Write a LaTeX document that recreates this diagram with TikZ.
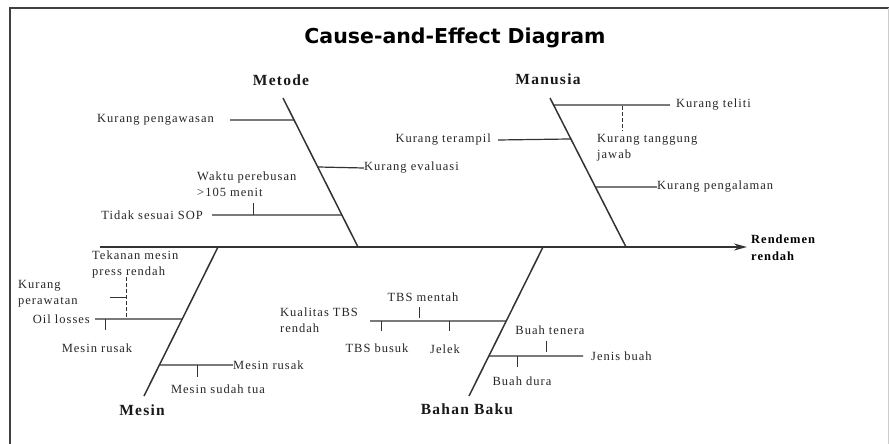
\documentclass[tikz,border=0pt]{standalone}
\usepackage{fontspec}
\setmainfont{Liberation Serif}[LetterSpace=8]
\newfontfamily\titlefont{DejaVu Sans}[FontFace={b}{n}{DejaVu Sans Bold}]
\usetikzlibrary{arrows.meta,calc}
\tikzset{
  bone/.style={draw=black!80, line width=1.5pt},
  sub/.style={draw=black!80, line width=1.2pt},
  tickln/.style={draw=black!80, line width=1pt},
  dashtick/.style={draw=black!80, line width=1pt, dash pattern=on 4pt off 2pt},
  lbl/.style={font=\fontsize{12.5}{16}\selectfont, text=black!85, inner sep=0pt, align=left},
  cat/.style={font=\fontsize{15.5}{17}\selectfont\bfseries, text=black!90, inner sep=0pt},
}
\begin{document}
\begin{tikzpicture}[x=1pt,y=-1pt]
\useasboundingbox (0,0) rectangle (889,444);
% frame
\draw[black!75, line width=2.5pt] (10,444) -- (10,8) -- (889,8);
\draw[black!20, line width=0.8pt] (888,8) -- (888,444);
% title
\node[font=\titlefont\bfseries\fontsize{20.5}{22}\selectfont, inner sep=0pt] (title) at (455,38) {Cause-and-Effect Diagram};
% spine
\coordinate (spL) at (100,247);
\coordinate (spR) at (747,247);
\draw[bone, -{Stealth[length=13pt,width=7pt]}] (spL) -- (spR);
\node[font=\fontsize{12.5}{17}\selectfont\bfseries, inner sep=0pt, anchor=west, align=left] (effect) at (751,248) {Rendemen\\rendah};
% main bones
\coordinate (mT) at (283,98);  \coordinate (mB) at (358,247);
\coordinate (uT) at (550,98);  \coordinate (uB) at (626,247);
\coordinate (sT) at (218,247); \coordinate (sB) at (144,396);
\coordinate (bT) at (543,247); \coordinate (bB) at (469,396);
\draw[bone] (mT) -- (mB);
\draw[bone] (uT) -- (uB);
\draw[bone] (sT) -- (sB);
\draw[bone] (bT) -- (bB);
% category labels
\node[cat] (metode) at (281,80) {Metode};
\node[cat] (manusia) at (548,79) {Manusia};
\node[cat] (mesin) at (142,410) {Mesin};
\node[cat] (bahan) at (467,409) {Bahan Baku};
% ---- Metode
\node[lbl, anchor=east] (kpeng) at (214,120) {Kurang pengawasan};
\node[lbl, anchor=west] (keval) at (364,168) {Kurang evaluasi};
\node[lbl, anchor=west] (waktu) at (197,184) {Waktu perebusan\\>105 menit};
\node[lbl, anchor=east] (sop) at (203,215) {Tidak sesuai SOP};
\coordinate (m1) at ($(mT)!0.148!(mB)$);
\coordinate (m2) at ($(mT)!0.463!(mB)$);
\coordinate (m3) at ($(mT)!0.785!(mB)$);
\coordinate (kpengE) at (230,120);
\coordinate (sopE) at (212,215);
\draw[sub] (kpengE) -- (m1);
\draw[sub] (m2) -- (keval.west);
\draw[sub] (sopE) -- (m3);
\coordinate (wt1) at (253,203); \coordinate (wt2) at (253,215);
\draw[tickln] (wt1) -- (wt2);
% ---- Manusia
\node[lbl, anchor=west] (teliti) at (676,105) {Kurang teliti};
\node[lbl, anchor=west] (tangg) at (597,148) {Kurang tanggung\\jawab};
\node[lbl, anchor=east] (teramp) at (491,140) {Kurang terampil};
\node[lbl, anchor=west] (pengal) at (657,187) {Kurang pengalaman};
\coordinate (u1) at ($(uT)!0.047!(uB)$);
\coordinate (u2) at ($(uT)!0.275!(uB)$);
\coordinate (u3) at ($(uT)!0.597!(uB)$);
\coordinate (telE) at (670,105);
\coordinate (terE) at (498,140);
\draw[sub] (u1) -- (telE);
\draw[sub] (terE) -- (u2);
\draw[sub] (u3) -- (pengal.west);
\coordinate (tg1) at (622,106); \coordinate (tg2) at (622,131);
\draw[dashtick] (tg1) -- (tg2);
% ---- Mesin
\node[lbl, anchor=west] (tekan) at (92,264) {Tekanan mesin\\press rendah};
\node[lbl, anchor=west] (rawat) at (18,294) {Kurang\\perawatan};
\node[lbl, anchor=east] (oil) at (90,319) {Oil losses};
\node[lbl] (mrusakA) at (97,348) {Mesin rusak};
\node[lbl, anchor=west] (mrusakB) at (233,365) {Mesin rusak};
\node[lbl] (tua) at (218,389) {Mesin sudah tua};
\coordinate (s1) at ($(sT)!0.483!(sB)$);
\coordinate (s2) at ($(sT)!0.792!(sB)$);
\coordinate (oilE) at (95,319);
\draw[sub] (oilE) -- (s1);
\draw[sub] (s2) -- (mrusakB.west);
\coordinate (tk1) at (126,277); \coordinate (tk2) at (126,319);
\draw[dashtick] (tk1) -- (tk2);
\coordinate (rw1) at (110,297); \coordinate (rw2) at (126,297);
\draw[tickln] (rw1) -- (rw2);
\coordinate (mr1) at (105,319); \coordinate (mr2) at (105,330);
\draw[tickln] (mr1) -- (mr2);
\coordinate (st1) at (197,365); \coordinate (st2) at (197,377);
\draw[tickln] (st1) -- (st2);
% ---- Bahan Baku
\node[lbl] (mentah) at (423,297) {TBS mentah};
\node[lbl, anchor=west] (kual) at (280,320) {Kualitas TBS\\rendah};
\node[lbl] (busuk) at (377,348) {TBS busuk};
\node[lbl] (jelek) at (445,349) {Jelek};
\node[lbl] (tenera) at (550,330) {Buah tenera};
\node[lbl, anchor=west] (jenis) at (591,356) {Jenis buah};
\node[lbl] (dura) at (522,381) {Buah dura};
\coordinate (b1) at ($(bT)!0.497!(bB)$);
\coordinate (b2) at ($(bT)!0.732!(bB)$);
\coordinate (kualE) at (370,321);
\coordinate (jenE) at (583,356);
\draw[sub] (kualE) -- (b1);
\draw[sub] (b2) -- (jenE);
\coordinate (tb1) at (381,321); \coordinate (tb2) at (381,331);
\draw[tickln] (tb1) -- (tb2);
\coordinate (je1) at (449,321); \coordinate (je2) at (449,331);
\draw[tickln] (je1) -- (je2);
\coordinate (mt1) at (419,307); \coordinate (mt2) at (419,318);
\draw[tickln] (mt1) -- (mt2);
\coordinate (tn1) at (546,341); \coordinate (tn2) at (546,352);
\draw[tickln] (tn1) -- (tn2);
\coordinate (du1) at (517,356); \coordinate (du2) at (517,367);
\draw[tickln] (du1) -- (du2);
\end{tikzpicture}
\end{document}
